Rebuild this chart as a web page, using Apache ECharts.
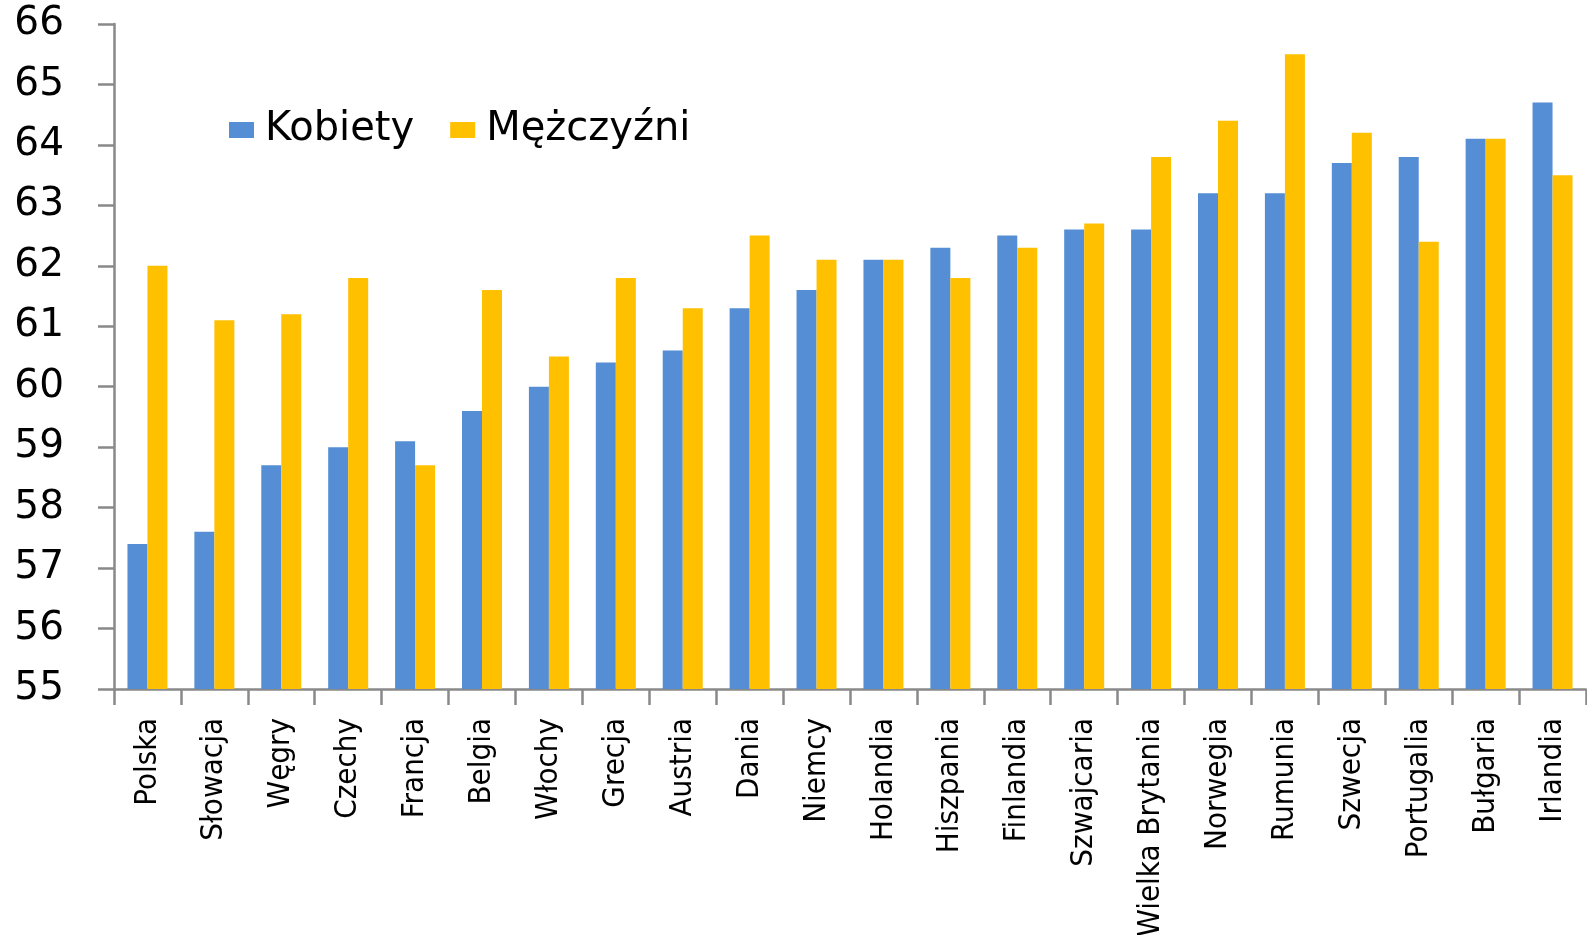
<!DOCTYPE html>
<html>
<head>
<meta charset="utf-8">
<script src="https://cdn.jsdelivr.net/npm/echarts@6.0.0/dist/echarts.min.js"></script>
<style>
  html, body { margin: 0; padding: 0; background: #fff; }
  #chart { width: 1587px; height: 935px; }
</style>
</head>
<body>
<div id="chart"></div>
<script>
  const countries = ['Polska', 'Słowacja', 'Węgry', 'Czechy', 'Francja', 'Belgia', 'Włochy', 'Grecja', 'Austria', 'Dania', 'Niemcy',
    'Holandia', 'Hiszpania', 'Finlandia', 'Szwajcaria', 'Wielka Brytania', 'Norwegia', 'Rumunia', 'Szwecja', 'Portugalia', 'Bułgaria', 'Irlandia']
  const kobiety = [57.4, 57.6, 58.7, 59.0, 59.1, 59.6, 60.0, 60.4, 60.6, 61.3, 61.6, 62.1, 62.3, 62.5, 62.6, 62.6, 63.2, 63.2, 63.7, 63.8, 64.1, 64.7]
  const mezczyzni = [62.0, 61.1, 61.2, 61.8, 58.7, 61.6, 60.5, 61.8, 61.3, 62.5, 62.1, 62.1, 61.8, 62.3, 62.7, 63.8, 64.4, 65.5, 64.2, 62.4, 64.1, 63.5]
  const yMin = 55
  const yMax = 66

  const axisColor = '#898989'
  var chart = echarts.init(document.getElementById('chart'))
  chart.setOption({
    animation: false,
    legend: {
      left: 224,
      top: 105,
      icon: 'rect',
      itemWidth: 25,
      itemHeight: 16,
      itemGap: 36,
      textStyle: {
        fontFamily: 'DejaVu Sans',
        fontSize: 40,
        color: '#000',
        padding: [0, 0, 0, 6]
      },
      data: ['Kobiety', 'Mężczyźni']
    },
    grid: {
      left: 114,
      right: 1,
      top: 24,
      bottom: 246,
      containLabel: false,
      outerBoundsMode: 'none'
    },
    xAxis: {
      type: 'category',
      data: countries,
      axisLine: { lineStyle: { color: axisColor, width: 2.5 } },
      axisTick: { show: true, length: 16, interval: 0, lineStyle: { color: axisColor, width: 2.5 } },
      axisLabel: {
        interval: 0,
        rotate: 90,
        margin: 29,
        color: '#000',
        fontFamily: '"Liberation Sans Narrow", "DejaVu Sans Condensed", sans-serif',
        fontSize: 31
      }
    },
    yAxis: {
      type: 'value',
      min: yMin,
      max: yMax,
      interval: 1,
      axisLine: { show: true, lineStyle: { color: axisColor, width: 2.5 } },
      axisTick: { show: true, length: 16, lineStyle: { color: axisColor, width: 2.5 } },
      splitLine: { show: false },
      axisLabel: {
        margin: 50,
        color: '#000',
        fontFamily: 'DejaVu Sans',
        fontSize: 39
      }
    },
    series: [{
      name: 'Kobiety',
      type: 'bar',
      data: kobiety,
      barWidth: 20,
      barGap: '0%',
      itemStyle: { color: '#558ED5' }
    }, {
      name: 'Mężczyźni',
      type: 'bar',
      data: mezczyzni,
      barWidth: 20,
      barGap: '0%',
      itemStyle: { color: '#FFC000' }
    }]
  })
</script>
</body>
</html>
